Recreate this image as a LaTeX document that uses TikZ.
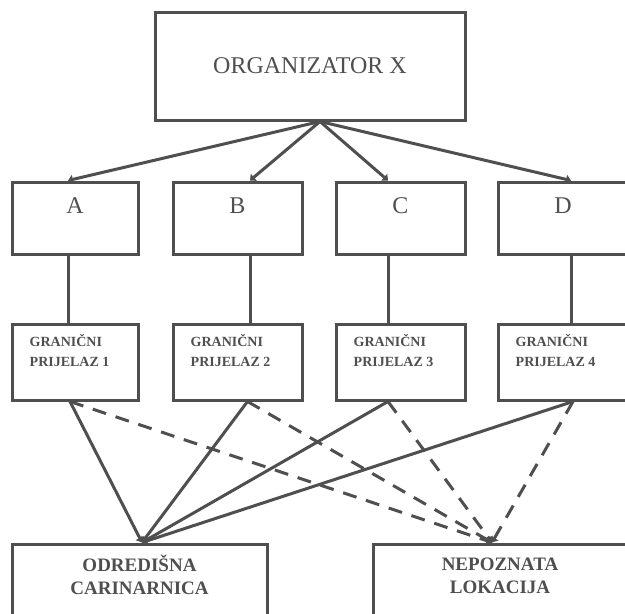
\documentclass[tikz,border=0pt]{standalone}
\usepackage{fontspec}
\setmainfont{Liberation Serif}
\usetikzlibrary{positioning,arrows.meta}
\definecolor{ink}{HTML}{4F4F4F}

\tikzset{
  box/.style={draw=ink, line width=3pt, minimum width=#1, inner sep=0pt},
  rowbox/.style={box=#1, minimum height=72pt},
  gpbox/.style={box=#1, minimum height=76pt},
  endbox/.style={box=#1, minimum height=81pt},
  letter/.style={text=ink, inner sep=0pt, font=\fontsize{24}{28}\selectfont},
  gptext/.style={text=ink, inner sep=0pt, align=left, font=\bfseries\fontsize{14}{20}\selectfont},
  endtext/.style={text=ink, inner sep=0pt, align=center, font=\bfseries\fontsize{19}{23}\selectfont},
  link/.style={draw=ink, line width=3pt},
  dashlink/.style={link, dash pattern=on 14pt off 10pt},
  tip/.style={-{Triangle[length=5pt,width=9pt]}}
}

\begin{document}
\begin{tikzpicture}[x=1pt, y=-1pt]
\clip (0,0) rectangle (625,614);
\fill[white] (0,0) rectangle (625,614);
    % Draw the organizer box
    \node[box=310pt, minimum height=108pt, text=ink, font=\fontsize{24}{28}\selectfont] (org) at (310,66) {ORGANIZATOR X};
    % first row
    \node[rowbox=126pt] (a) at (75,218) {};
    \node[rowbox=129pt] (b) at (237.5,218) {};
    \node[rowbox=129pt] (c) at (400.5,218) {};
    \node[rowbox=130pt] (d) at (563,218) {};
    \node[letter, below=17pt of a.north] {A};
    \node[letter, below=17pt of b.north] {B};
    \node[letter, below=17pt of c.north] {C};
    \node[letter, below=17pt of d.north] {D};
    % border crossings
    \node[gpbox=126pt] (g1) at (75,362) {};
    \node[gpbox=129pt] (g2) at (237.5,362) {};
    \node[gpbox=129pt] (g3) at (400.5,362) {};
    \node[gpbox=130pt] (g4) at (563,362) {};
    \node[gptext, below right=12pt and 19pt of g1.north west] {GRANIČNI\\PRIJELAZ 1};
    \node[gptext, below right=12pt and 19pt of g2.north west] {GRANIČNI\\PRIJELAZ 2};
    \node[gptext, below right=12pt and 19pt of g3.north west] {GRANIČNI\\PRIJELAZ 3};
    \node[gptext, below right=12pt and 19pt of g4.north west] {GRANIČNI\\PRIJELAZ 4};
    % destinations
    \node[endbox=255pt] (dest) at (139.5,584.5) {};
    \node[endbox=254pt] (unk) at (500,584.5) {};
    \node[endtext, below=12pt of dest.north] {ODREDIŠNA\\CARINARNICA};
    \node[endtext, below=15pt of unk.north] {NEPOZNATA\\LOKACIJA};

    \draw[link, tip] ([xshift=10pt]org.south) -- ([xshift=-7pt]a.north);
    \draw[link, tip] ([xshift=10pt]org.south) -- ([xshift=12.5pt]b.north);
    \draw[link, tip] ([xshift=10pt]org.south) -- ([xshift=-12.5pt]c.north);
    \draw[link, tip] ([xshift=10pt]org.south) -- ([xshift=8pt]d.north);

    \draw[link] ([xshift=-7pt]a.south) -- ([xshift=-7pt]g1.north);
    \draw[link] ([xshift=12.5pt]b.south) -- ([xshift=12.5pt]g2.north);
    \draw[link] ([xshift=-12.5pt]c.south) -- ([xshift=-12.5pt]g3.north);
    \draw[link] ([xshift=8pt]d.south) -- ([xshift=8pt]g4.north);

    \draw[link, tip] ([xshift=-5pt]g1.south) -- ([xshift=2.5pt]dest.north);
    \draw[link, tip] ([xshift=10pt]g2.south) -- ([xshift=2.5pt]dest.north);
    \draw[link, tip] ([xshift=-12.5pt]g3.south) -- ([xshift=2.5pt]dest.north);
    \draw[link, tip] ([xshift=10pt]g4.south) -- ([xshift=2.5pt]dest.north);

    \draw[dashlink, tip] ([xshift=-5pt]g1.south) -- ([xshift=-8pt]unk.north);
    \draw[dashlink, tip] ([xshift=10pt]g2.south) -- ([xshift=-8pt]unk.north);
    \draw[dashlink, tip] ([xshift=-12.5pt]g3.south) -- ([xshift=-8pt]unk.north);
    \draw[dashlink, tip] ([xshift=10pt]g4.south) -- ([xshift=-8pt]unk.north);
\end{tikzpicture}
\end{document}
